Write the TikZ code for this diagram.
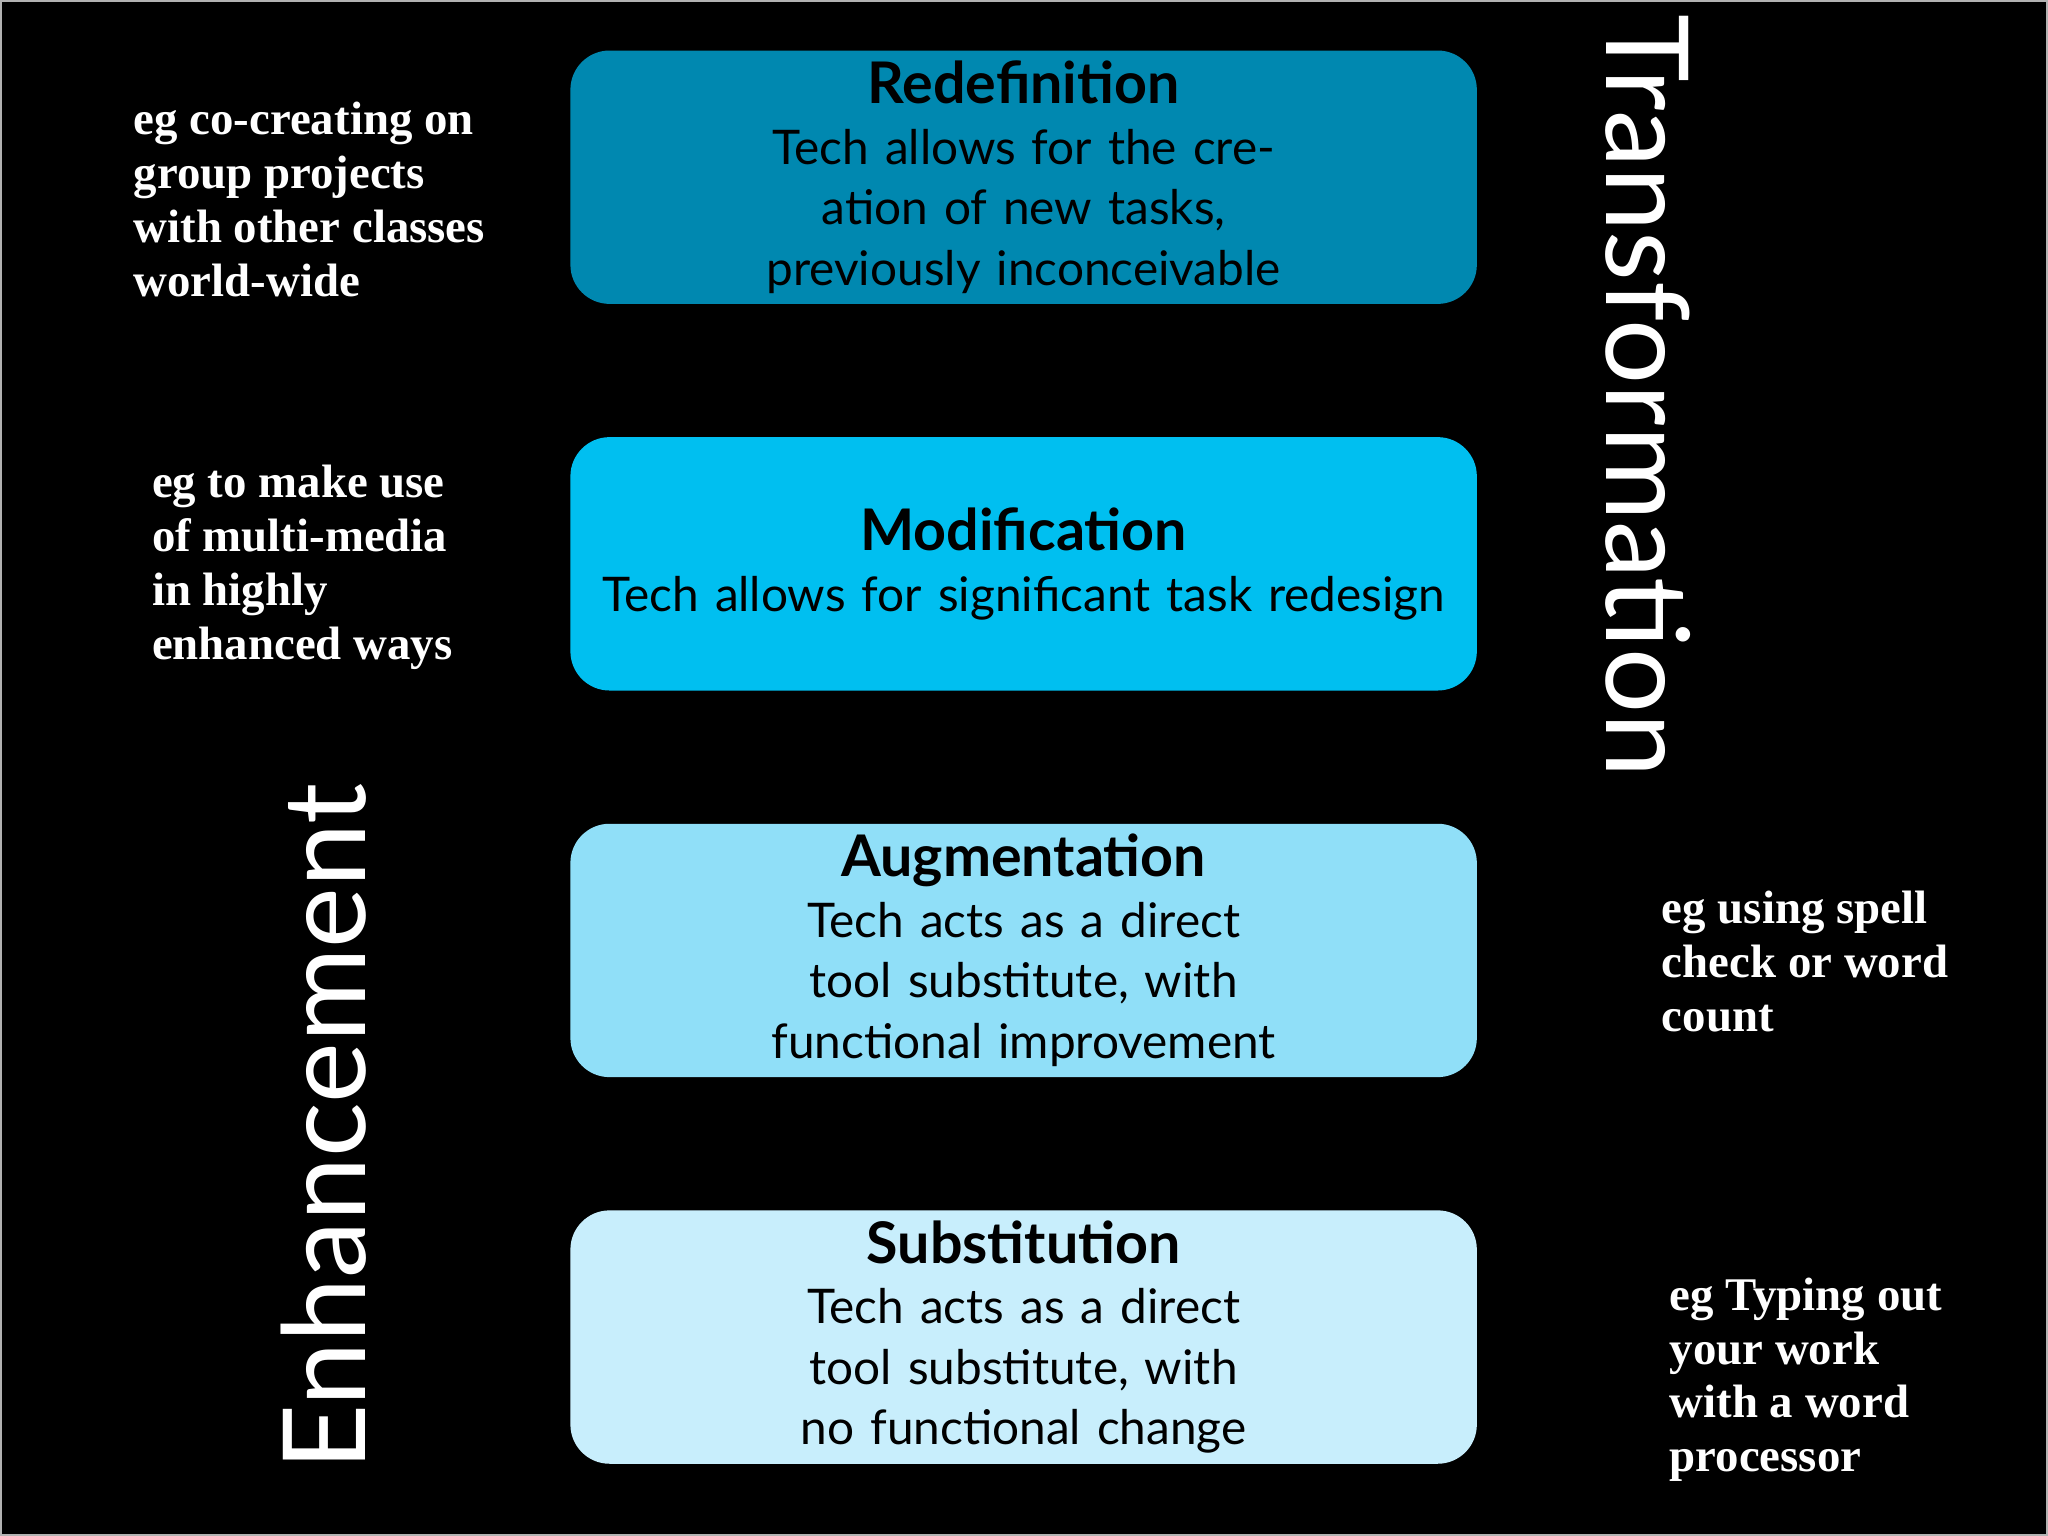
\documentclass[tikz,border=0pt]{standalone}
\usepackage{fontspec}
\setmainfont{Liberation Serif}
\newfontfamily\boxfont{Lato}
\begin{document}
\begin{tikzpicture}[x=1cm,y=1cm,
  lvl/.style={draw=none,rounded corners=0.3cm,minimum width=6.94cm,text width=6.7cm,minimum height=1.94cm,inner sep=0pt,anchor=north west,align=center,font=\boxfont\fontsize{10.4}{13.2}\selectfont,text=black},
  side/.style={anchor=north west,align=left,text=white,font=\bfseries\fontsize{10.2}{11.7}\selectfont},
  big/.style={text=white,font=\boxfont\fontsize{25}{26}\selectfont}]
\useasboundingbox (0,0) rectangle (15.68,11.76);
\fill[black] (0,0) rectangle (15.68,11.76);
\draw[gray!60,line width=0.4pt] (0.01,0.01) rectangle (15.67,11.75);
\definecolor{cR}{HTML}{0088B0}\definecolor{cM}{HTML}{00BFF0}
\definecolor{cA}{HTML}{90DFF8}\definecolor{cS}{HTML}{C8EEFC}
\node[lvl,fill=cR] (r) at (4.36,11.38) {{\bfseries\fontsize{12.5}{14}\selectfont Redefinition}\\Tech allows for the creation of new tasks,\\previously inconceivable};
\node[lvl,fill=cM] (m) at (4.36,8.42) {{\bfseries\fontsize{12.5}{14}\selectfont Modification}\\Tech allows for significant task redesign};
\node[lvl,fill=cA] (a) at (4.36,5.46) {{\bfseries\fontsize{12.5}{14}\selectfont Augmentation}\\Tech acts as a direct tool substitute, with\\functional improvement};
\node[lvl,fill=cS] (s) at (4.36,2.50) {{\bfseries\fontsize{12.5}{14}\selectfont Substitution}\\Tech acts as a direct tool substitute, with\\no functional change};
\node[side] (t1) at (0.90,11.1) {eg co-creating on\\group projects\\with other classes\\world-wide};
\node[side] (t2) at (1.04,8.32) {eg to make use\\of multi-media\\in highly\\enhanced ways};
\node[side] (t3) at (12.60,5.06) {eg using spell\\check or word\\count};
\node[side] (t4) at (12.66,2.10) {eg Typing out\\your work\\with a word\\processor};
\node[big,rotate=-90] (tr) at (12.62,8.73) {Transformation};
\node[big,rotate=90] (en) at (2.48,3.13) {Enhancement};
\end{tikzpicture}
\end{document}
